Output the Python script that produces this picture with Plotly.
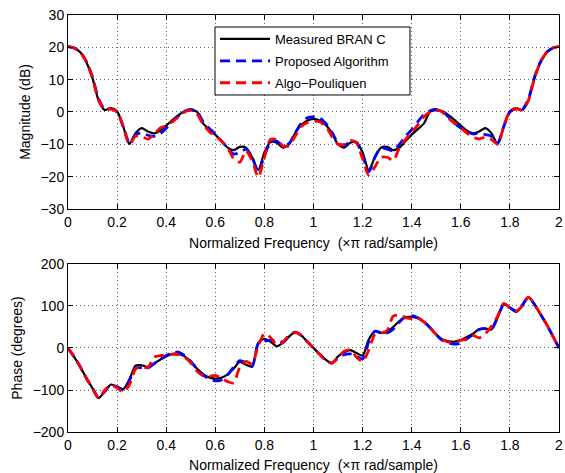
import numpy as np
import plotly.graph_objects as go

# Normalized frequency grid (x pi rad/sample)
freq = np.round(np.linspace(0, 2, 81), 3)

# Magnitude (dB)
mag_measured = [20.2, 19.8, 18.5, 15.4, 10.4, 3.5, 0.6, 1.2, 0.2, -4.5,
                -9.9, -6.6, -5.0, -6.0, -6.6, -5.8, -4.2, -2.5, -1.0, 0.2,
                0.6, 0.1, -3.5, -5.3, -7.0, -9.0, -11.0, -11.8, -10.8, -11.0,
                -14.0, -18.0, -12.5, -9.3, -9.5, -11.0, -10.0, -6.5, -4.0, -2.6,
                -2.1,
                -2.6, -4.0, -6.5, -10.0, -11.0, -9.5, -9.3, -12.5, -18.0, -14.0,
                -11.0, -10.8, -11.8, -11.0, -9.0, -7.0, -5.3, -3.5, 0.1, 0.6,
                0.2, -1.0, -2.5, -4.2, -5.8, -6.6, -6.0, -5.0, -6.6, -9.9,
                -4.5, 0.2, 1.2, 0.6, 3.5, 10.4, 15.4, 18.5, 19.8, 20.2]
mag_proposed = [20.2, 19.8, 18.5, 15.6, 10.8, 4.0, 0.8, 1.0, 0.0, -4.5,
                -9.5, -7.0, -6.5, -7.2, -7.5, -6.8, -5.0, -3.0, -1.2, 0.2,
                0.8, 0.2, -3.0, -5.0, -6.8, -9.0, -11.0, -13.0, -12.5, -11.5,
                -14.0, -18.5, -13.5, -9.5, -9.0, -10.5, -9.8, -6.5, -3.5, -1.8,
                -1.5,
                -1.8, -3.5, -6.3, -9.5, -10.5, -9.0, -9.5, -13.5, -18.5, -14.0,
                -11.0, -11.5, -12.0, -10.0, -7.5, -5.5, -3.0, -0.8, 0.4, 0.8,
                0.2, -1.5, -3.5, -5.0, -6.0, -6.8, -6.5, -7.0, -7.5, -9.6,
                -4.5, 0.0, 1.0, 0.8, 4.0, 10.8, 15.6, 18.5, 19.8, 20.2]
mag_pouliquen = [20.3, 19.8, 18.5, 15.5, 10.5, 3.5, 0.7, 1.0, 0.0, -4.5,
                 -10.0, -7.5, -7.5, -8.4, -7.0, -5.0, -4.2, -3.0, -1.5, 0.0,
                 0.5, -0.5, -3.8, -6.0, -7.5, -9.0, -11.0, -14.5, -15.5, -12.0,
                 -15.0, -20.2, -14.0, -8.5, -8.5, -10.5, -10.5, -7.5, -4.5, -3.2,
                 -2.8,
                 -3.0, -4.5, -7.5, -10.0, -10.0, -8.8, -9.5, -14.5, -19.5, -17.0,
                 -14.0, -14.0, -15.0, -11.0, -8.5, -6.3, -4.0, -1.5, 0.0, 0.5,
                 0.0, -2.0, -3.5, -5.0, -6.5, -7.8, -8.3, -7.8, -8.5, -10.0,
                 -4.5, 0.2, 1.0, 0.6, 3.5, 10.5, 15.5, 18.5, 19.8, 20.3]

# Phase (degrees)
phase_measured = [0, -21, -45, -72, -96, -119, -103, -87, -92, -98,
                  -75, -42, -41, -45, -37, -28, -20, -14, -14, -20,
                  -32, -49, -62, -70, -73, -71, -63, -49, -33, -40,
                  -44, 12, 22, 15, 4, 12, 27, 38, 30, 15,
                  0,
                  -15, -28, -36, -20, -10, -5, -12, -18, 20, 40,
                  36, 38, 50, 64, 73, 74, 71, 62, 48, 32,
                  20, 16, 15, 19, 26, 34, 45, 46, 44, 72,
                  104, 96, 86, 100, 121, 104, 80, 56, 28, 0]
phase_proposed = [0, -21, -45, -72, -96, -119, -103, -88, -93, -100,
                  -78, -48, -47, -48, -38, -27, -18, -11, -10, -18,
                  -32, -50, -64, -73, -78, -76, -64, -45, -30, -35,
                  -44, 10, 16, 18, 18, 14, 28, 38, 30, 15,
                  0,
                  -15, -28, -36, -24, -16, -14, -20, -26, 15, 40,
                  36, 36, 45, 62, 76, 77, 72, 62, 48, 32,
                  18, 12, 9, 12, 22, 32, 44, 46, 45, 74,
                  104, 96, 88, 102, 121, 104, 80, 56, 28, 0]
phase_pouliquen = [0, -21, -45, -72, -96, -120, -100, -88, -95, -105,
                   -88, -50, -45, -47, -22, -18, -18, -15, -16, -22,
                   -35, -55, -66, -68, -65, -72, -80, -83, -45, -32,
                   -38, 5, 34, 25, 8, 14, 30, 37, 30, 15,
                   0,
                   -15, -30, -36, -22, -8, -5, -22, -32, -5, 32,
                   35, 42, 76, 78, 72, 70, 72, 62, 48, 32,
                   20, 14, 15, 18, 22, 30, 24, 34, 52, 76,
                   106, 96, 88, 100, 121, 104, 80, 56, 28, 0]

FONT = "Liberation Sans, Arial, Helvetica, sans-serif"

fig = go.Figure()
series = [
    ("Measured BRAN C", "#000000", "solid", 2.2, mag_measured, phase_measured),
    ("Proposed Algorithm", "#0000ff", "10px,6px", 2.8, mag_proposed, phase_proposed),
    ("Algo\u2212Pouliquen", "#ff0000", "10px,6px", 2.8, mag_pouliquen, phase_pouliquen),
]
for name, color, dash, width, mag, ph in series:
    line = dict(color=color, dash=dash, width=width, shape="spline", smoothing=0.7)
    fig.add_trace(go.Scatter(x=freq, y=mag, name=name, mode="lines", line=line,
                             legendgroup=name, xaxis="x", yaxis="y"))
    fig.add_trace(go.Scatter(x=freq, y=ph, name=name, mode="lines", line=line,
                             legendgroup=name, showlegend=False, xaxis="x2", yaxis="y2"))

axis_common = dict(
    showline=True, linecolor="black", linewidth=1, mirror="allticks",
    ticks="inside", ticklen=5, tickcolor="black", tickwidth=1,
    showgrid=True, gridcolor="#666666", griddash="1px,3px", gridwidth=1,
    zeroline=False, ticklabeloverflow="allow", automargin=False,
    tickfont=dict(family=FONT, size=14, color="black"),
)
xtitle = "Normalized Frequency  (\u00d7\u03c0 rad/sample)"

# Legend frame (white box with black border, as in the reference)
legend_frame = dict(type="rect", xref="paper", yref="paper",
                    x0=0.2994, x1=0.6965, y0=0.8082, y1=0.9712,
                    line=dict(color="black", width=1), fillcolor="white", layer="above")

fig.update_layout(
    width=565, height=473,
    margin=dict(l=68, r=6, t=15, b=41, autoexpand=False),
    paper_bgcolor="white", plot_bgcolor="white",
    font=dict(family=FONT, size=14, color="black"),
    xaxis=dict(domain=[0, 1], anchor="y", range=[0, 2], dtick=0.2, tick0=0,
               title=dict(text=xtitle, font=dict(size=14), standoff=9), **axis_common),
    yaxis=dict(domain=[0.5348, 1], anchor="x", range=[-30, 30], dtick=10,
               title=dict(text="Magnitude (dB)", font=dict(size=14), standoff=6), **axis_common),
    xaxis2=dict(domain=[0, 1], anchor="y2", range=[0, 2], dtick=0.2, tick0=0,
                title=dict(text=xtitle, font=dict(size=14), standoff=9), **axis_common),
    yaxis2=dict(domain=[0, 0.4029], anchor="x2", range=[-200, 200], dtick=100,
                title=dict(text="Phase (degrees)", font=dict(size=14), standoff=6), **axis_common),
    shapes=[legend_frame],
    showlegend=True,
    legend=dict(x=0.2994, y=0.9784, xanchor="left", yanchor="top",
                bgcolor="rgba(0,0,0,0)", borderwidth=0,
                itemwidth=50, tracegroupgap=2,
                font=dict(family=FONT, size=13, color="black")),
)

fig.write_html("out.html", config={"displayModeBar": False},
               post_script="document.body.style.margin='0';")
